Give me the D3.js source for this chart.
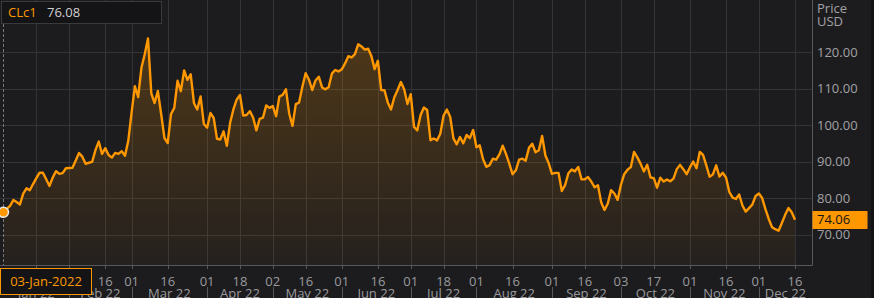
<!DOCTYPE html>
<html lang="en">
<head>
    <meta charset="UTF-8">
    <title>CLc1</title>
    <script src="https://cdnjs.cloudflare.com/ajax/libs/d3/7.8.5/d3.min.js" charset="utf-8"></script>
    <style>
        body { margin: 0; background: #1c1c1f; }
        text { font-family: "Open Sans", sans-serif; font-size: 13px; }
    </style>
</head>
<body>
<script>

    // monthly closes, CLc1 2022
    var jan = [76.08, 76.99, 77.85, 79.46, 78.90, 78.23, 81.22, 82.64, 82.12, 83.82, 85.43, 86.96, 86.90, 85.14, 83.31, 85.60, 87.35, 86.61, 86.82, 88.15];
    var feb = [88.20, 88.26, 90.27, 92.31, 91.32, 89.36, 89.66, 89.88, 93.10, 95.46, 92.07, 93.66, 91.76, 91.07, 92.35, 92.10, 92.81, 91.59, 95.72];
    var mar = [103.41, 110.60, 107.67, 115.68, 119.40, 123.70, 108.70, 106.02, 109.33, 103.01, 96.44, 95.04, 102.98, 104.70, 112.12, 109.27, 114.93, 112.34, 113.90, 105.96, 104.24, 107.82, 100.28];
    var apr = [99.27, 103.28, 101.96, 96.23, 96.03, 98.26, 94.29, 100.60, 104.25, 106.95, 108.21, 102.56, 102.75, 103.79, 102.07, 98.54, 101.70, 102.02, 105.36, 104.69];
    var may = [105.17, 102.41, 107.81, 108.26, 109.77, 103.09, 99.76, 105.71, 106.13, 110.49, 114.20, 112.40, 109.59, 112.21, 113.23, 110.29, 109.77, 110.33, 114.09, 115.07, 114.67];
    var jun = [115.26, 116.87, 118.87, 118.50, 119.41, 122.11, 121.51, 120.67, 120.93, 118.93, 115.31, 117.59, 109.56, 109.52, 106.19, 104.27, 107.62, 109.57, 111.76, 109.78, 105.76];
    var jul = [108.43, 99.50, 98.53, 102.73, 104.79, 104.09, 95.84, 96.30, 95.78, 97.59, 102.60, 104.22, 102.26, 96.35, 94.70, 96.70, 94.98, 97.26, 96.42, 98.62];
    var aug = [93.89, 94.42, 90.66, 88.54, 89.01, 90.76, 90.50, 91.93, 94.34, 92.09, 89.41, 86.53, 87.59, 90.50, 90.77, 90.23, 93.74, 94.89, 92.52, 93.06, 97.01, 91.64, 89.55];
    var sep = [86.61, 86.87, 86.88, 81.94, 83.54, 86.79, 87.78, 87.31, 88.48, 85.10, 85.11, 85.73, 84.45, 82.94, 83.49, 78.74, 76.71, 78.50, 82.15, 81.23, 79.49];
    var oct = [83.63, 86.52, 87.76, 88.45, 92.64, 91.13, 89.35, 87.27, 89.11, 85.61, 85.46, 82.82, 85.55, 84.51, 85.05, 84.58, 85.32, 87.91, 89.08, 87.90, 86.53];
    var nov = [88.37, 90.00, 88.17, 92.61, 91.79, 88.91, 85.83, 86.47, 88.96, 85.87, 86.92, 85.59, 81.64, 80.08, 79.73, 80.95, 77.94, 76.28, 77.24, 78.20, 80.55];
    var dec = [81.22, 79.98, 76.93, 74.25, 72.01, 71.46, 71.02, 73.17, 75.39, 77.28, 76.11, 74.06];

    var monthNames = ["Jan 22", "Feb 22", "Mar 22", "Apr 22", "May 22", "Jun 22", "Jul 22", "Aug 22", "Sep 22", "Oct 22", "Nov 22", "Dec 22"];
    var holidays = ["2022-01-17", "2022-02-21", "2022-04-15", "2022-05-30", "2022-06-20", "2022-07-04", "2022-09-05", "2022-11-24"];
    var tickDays = ["2022-01-18", "2022-02-01", "2022-02-16", "2022-03-01", "2022-03-16", "2022-04-01", "2022-04-18", "2022-05-02",
        "2022-05-16", "2022-06-01", "2022-06-16", "2022-07-01", "2022-07-18", "2022-08-01", "2022-08-16", "2022-09-01",
        "2022-09-16", "2022-10-03", "2022-10-17", "2022-11-01", "2022-11-16", "2022-12-01", "2022-12-16"];
    var yTicks = [70, 80, 90, 100, 110, 120];

    var ric = "CLc1";
    var hoverDate = "03-Jan-2022";

    var fmt = d3.timeFormat("%Y-%m-%d");
    var prices = [].concat(jan, feb, mar, apr, may, jun, jul, aug, sep, oct, nov, dec);

    // trading days only
    var days = d3.timeDay.range(new Date(2022, 0, 3), new Date(2022, 11, 17))
        .filter(function (d) { return d.getDay() !== 0 && d.getDay() !== 6; })
        .map(fmt)
        .filter(function (d) { return holidays.indexOf(d) < 0; });

    var data = days.map(function (d, i) { return {day: d, v: prices[i]}; });

    var width = 874, height = 298;
    var plotR = 812, plotB = 265;
    var orange = "#ff9800";

    var svg = d3.select("body").append("svg")
        .attr("width", width)
        .attr("height", height);

    svg.append("rect").attr("width", width).attr("height", height).attr("fill", "#1c1c1f");
    svg.append("rect").attr("x", 871).attr("width", 3).attr("height", height).attr("fill", "#131315");

    var x = d3.scalePoint().domain(days).range([3.5, 795]);
    var y = d3.scaleLinear().domain([70, 120]).range([234.5, 52]);

    // gradient under line
    var grad = svg.append("defs").append("linearGradient")
        .attr("id", "fill")
        .attr("gradientUnits", "userSpaceOnUse")
        .attr("x1", 0).attr("y1", 40).attr("x2", 0).attr("y2", plotB);
    grad.append("stop").attr("offset", 0).attr("stop-color", orange).attr("stop-opacity", 0.22);
    grad.append("stop").attr("offset", 1).attr("stop-color", orange).attr("stop-opacity", 0.04);

    // grid
    svg.append("g").selectAll("line").data(yTicks).enter().append("line")
        .attr("x1", 0).attr("x2", plotR)
        .attr("y1", function (d) { return Math.round(y(d)) + 0.5; })
        .attr("y2", function (d) { return Math.round(y(d)) + 0.5; })
        .attr("stroke", "#343437");
    svg.append("g").selectAll("line").data(tickDays).enter().append("line")
        .attr("x1", function (d) { return Math.round(x(d)) + 0.5; })
        .attr("x2", function (d) { return Math.round(x(d)) + 0.5; })
        .attr("y1", 0).attr("y2", plotB)
        .attr("stroke", "#343437");

    // area + line
    svg.append("path").datum(data)
        .attr("d", d3.area()
            .x(function (d) { return x(d.day); })
            .y0(plotB)
            .y1(function (d) { return y(d.v); }))
        .attr("fill", "url(#fill)");

    svg.append("path").datum(data)
        .attr("d", d3.line()
            .x(function (d) { return x(d.day); })
            .y(function (d) { return y(d.v); }))
        .attr("fill", "none")
        .attr("stroke", orange)
        .attr("stroke-width", 2.4)
        .attr("stroke-linejoin", "round");

    // axis frame
    svg.append("line").attr("x1", 0).attr("x2", plotR + 0.5).attr("y1", plotB + 0.5).attr("y2", plotB + 0.5).attr("stroke", "#58585b");
    svg.append("line").attr("x1", plotR + 0.5).attr("x2", plotR + 0.5).attr("y1", 0).attr("y2", plotB + 0.5).attr("stroke", "#58585b");

    // right axis
    var yAxis = svg.append("g");
    yAxis.selectAll("text").data(yTicks).enter().append("text")
        .attr("x", 817)
        .attr("y", function (d) { return y(d); })
        .attr("dy", "0.35em")
        .attr("fill", "#a2a2a5")
        .text(function (d) { return d3.format(".2f")(d); });
    yAxis.append("text").attr("x", 817).attr("y", 12.5).attr("fill", "#a2a2a5").text("Price");
    yAxis.append("text").attr("x", 817).attr("y", 26).attr("fill", "#a2a2a5").text("USD");

    // bottom axis: day ticks
    var xAxis = svg.append("g");
    xAxis.selectAll("line").data(tickDays).enter().append("line")
        .attr("x1", function (d) { return Math.round(x(d)) + 0.5; })
        .attr("x2", function (d) { return Math.round(x(d)) + 0.5; })
        .attr("y1", plotB).attr("y2", plotB + 4)
        .attr("stroke", "#58585b");
    xAxis.selectAll("text.day").data(tickDays).enter().append("text")
        .attr("class", "day")
        .attr("x", function (d) { return x(d); })
        .attr("y", 285.5)
        .attr("text-anchor", "middle")
        .attr("fill", "#9a9a9d")
        .text(function (d) { return d.slice(8); });

    // month row
    var monthStarts = monthNames.map(function (m, i) {
        var key = "2022-" + d3.format("02")(i + 1);
        return days.filter(function (d) { return d.slice(0, 7) === key; })[0];
    });
    var monthX = monthStarts.map(function (d) { return x(d); });
    xAxis.selectAll("line.sep").data(monthX.slice(1)).enter().append("line")
        .attr("class", "sep")
        .attr("x1", function (d) { return Math.round(d) + 0.5; })
        .attr("x2", function (d) { return Math.round(d) + 0.5; })
        .attr("y1", 287).attr("y2", height)
        .attr("stroke", "#58585b");
    xAxis.selectAll("text.month").data(monthNames).enter().append("text")
        .attr("class", "month")
        .attr("x", function (d, i) { return (monthX[i] + (i < 11 ? monthX[i + 1] : plotR)) / 2; })
        .attr("y", 297.5)
        .attr("text-anchor", "middle")
        .attr("fill", "#9a9a9d")
        .text(function (d) { return d; });

    // last price tag
    var last = data[data.length - 1];
    svg.append("rect")
        .attr("x", plotR + 0.5).attr("y", Math.round(y(last.v)) - 9)
        .attr("width", 55).attr("height", 18)
        .attr("fill", orange);
    svg.append("text")
        .attr("x", 817).attr("y", y(last.v)).attr("dy", "0.35em")
        .attr("fill", "#141414")
        .text(d3.format(".2f")(last.v));

    // crosshair on first point
    var first = data[0];
    svg.append("line")
        .attr("x1", 3.5).attr("x2", 3.5).attr("y1", 24).attr("y2", plotB)
        .attr("stroke", "#77777a").attr("stroke-dasharray", "3,2");
    svg.append("circle")
        .attr("cx", x(first.day)).attr("cy", y(first.v)).attr("r", 5)
        .attr("fill", orange).attr("stroke", "#e8e8e8").attr("stroke-width", 1.5);

    // legend box
    svg.append("rect").attr("x", 1.5).attr("y", 1.5).attr("width", 160).attr("height", 22)
        .attr("fill", "#141416").attr("stroke", "#3a3a3d");
    svg.append("text").attr("x", 8).attr("y", 17).attr("fill", orange).text(ric);
    svg.append("text").attr("x", 47).attr("y", 17).attr("fill", "#cfcfd2").text(d3.format(".2f")(first.v));

    // hovered date box
    svg.append("rect").attr("x", 0.5).attr("y", 268.5).attr("width", 91).attr("height", 26)
        .attr("fill", "#141416").attr("stroke", orange);
    svg.append("text").attr("x", 46).attr("y", 281.5).attr("dy", "0.35em")
        .attr("text-anchor", "middle").attr("fill", orange).text(hoverDate);

</script>
</body>
</html>
